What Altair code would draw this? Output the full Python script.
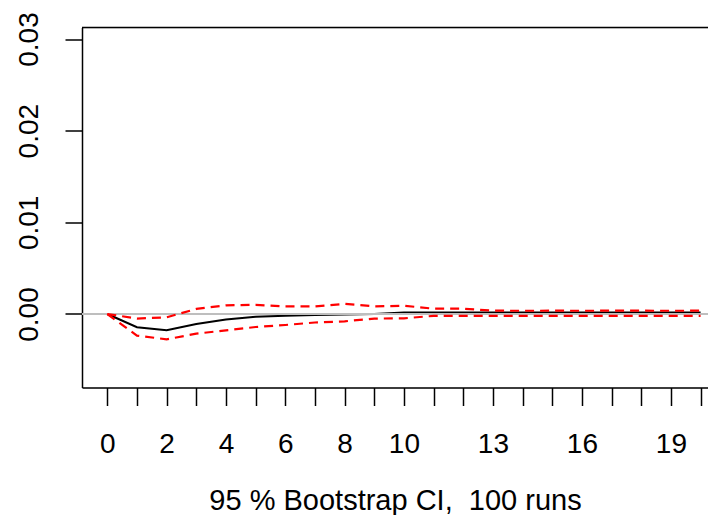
import altair as alt
import pandas as pd

# ---- data ----
horizon = list(range(21))
irf = [0.0, -0.00145, -0.00178, -0.0011, -0.0006, -0.0003, -0.0002, -0.0001,
       -0.00005, 0.0, 0.00015, 0.00016, 0.00016, 0.00016, 0.00016, 0.00016,
       0.00016, 0.00016, 0.00016, 0.00016, 0.00016]
upper = [0.0, -0.0005, -0.00036, 0.00055, 0.00095, 0.001, 0.00083, 0.00083,
         0.0011, 0.00083, 0.0009, 0.00058, 0.00058, 0.00036, 0.00035, 0.00036,
         0.00035, 0.00036, 0.00036, 0.00035, 0.00036]
lower = [0.0, -0.00236, -0.00276, -0.00215, -0.00178, -0.00142, -0.0012,
         -0.00093, -0.0008, -0.0005, -0.00047, -0.0002, -0.0002, -0.0002,
         -0.0002, -0.0002, -0.0002, -0.0002, -0.0002, -0.0002, -0.0002]
x_tick_values = list(range(21))
x_tick_labels = [0, 2, 4, 6, 8, 10, 13, 16, 19]
y_tick_values = [0.0, 0.01, 0.02, 0.03]
x_title = "95 % Bootstrap CI,\u00a0 100 runs"

df = pd.DataFrame({"h": horizon, "irf": irf, "upper": upper, "lower": lower})

W, H = 626, 360
FONT = "Liberation Sans"

x_scale = alt.Scale(domain=[-0.853, 20.25], nice=False, zero=False)
y_scale = alt.Scale(domain=[-0.00802, 0.031255], nice=False, zero=False)

label_expr = ("indexof([" + ",".join(str(v) for v in x_tick_labels) +
              "], datum.value) >= 0 ? datum.label : ''")

x_axis = alt.Axis(
    values=x_tick_values, labelExpr=label_expr, format="d", title=x_title,
    grid=False, tickSize=18, tickColor="black", tickWidth=1.5,
    domainColor="black", domainWidth=1.5,
    labelFont=FONT, labelFontSize=28, labelColor="black", labelPadding=47,
    labelBaseline="alphabetic", labelAlign="center", labelFlush=False,
    labelOverlap=False,
    titleFont=FONT, titleFontSize=29, titleFontWeight="normal",
    titleColor="black", titleBaseline="alphabetic", titleY=121.5,
)
y_axis = alt.Axis(
    values=y_tick_values, format=".2f", title=None, grid=False,
    tickSize=17, tickColor="black", tickWidth=1.5,
    domainColor="black", domainWidth=1.5,
    labelFont=FONT, labelFontSize=28, labelColor="black", labelPadding=28,
    labelAngle=270, labelAlign="center", labelBaseline="alphabetic",
    labelFlush=False, labelOverlap=False,
)

base = alt.Chart(df)


def xy(field):
    return dict(
        x=alt.X("h:Q", scale=x_scale, axis=x_axis),
        y=alt.Y(field, scale=y_scale, axis=y_axis),
    )


black = base.mark_line(color="black", strokeWidth=2).encode(**xy("irf:Q"))
zero = alt.Chart(pd.DataFrame({"z": [0.0]})).mark_rule(
    color="#bebebe", strokeWidth=2
).encode(y=alt.Y("z:Q", scale=y_scale, axis=y_axis))
up = base.mark_line(color="#ff0000", strokeWidth=2.2, strokeDash=[9, 6]).encode(
    **xy("upper:Q")
)
lo = base.mark_line(color="#ff0000", strokeWidth=2.2, strokeDash=[9, 6]).encode(
    **xy("lower:Q")
)
top_frame = alt.Chart(pd.DataFrame({"a": [0]})).mark_rule(
    color="black", strokeWidth=1.5
).encode(y=alt.value(0))

chart = alt.layer(black, zero, up, lo, top_frame).properties(
    width=W, height=H,
    autosize=alt.AutoSizeParams(type="none"),
    padding={"left": 74, "top": 19.5, "right": 0, "bottom": 127.5},
).configure_view(stroke=None).configure(background="white")

chart.save("out.html", embed_options={"renderer": "svg", "actions": False})
